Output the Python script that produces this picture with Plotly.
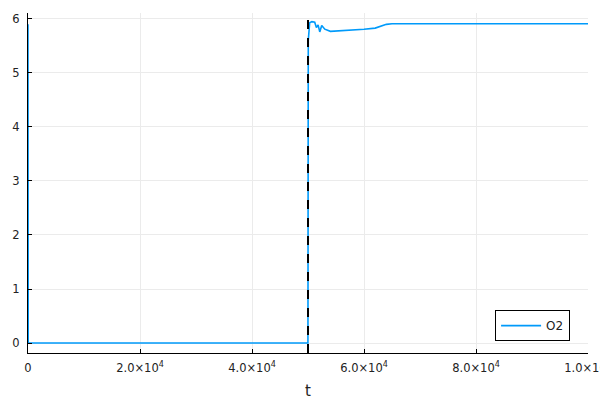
import plotly.graph_objects as go

t = [0, 40, 49990, 50000, 50050, 50300, 50700, 51200, 51500, 51800, 52100, 52450,
     53000, 54000, 56000, 58000, 60000, 62000, 63000, 64000, 65000, 100000]
o2 = [5.9, 0.0, 0.0, 0.0, 5.6, 5.93, 5.95, 5.94, 5.84, 5.89, 5.76, 5.88,
      5.81, 5.77, 5.78, 5.80, 5.81, 5.83, 5.86, 5.90, 5.91, 5.91]
vline_x = [50000]
xtick_vals = [0, 20000, 40000, 60000, 80000, 100000]
xtick_text = ["0", "2.0×10<sup>4</sup>", "4.0×10<sup>4</sup>", "6.0×10<sup>4</sup>",
              "8.0×10<sup>4</sup>", "1.0×10<sup>5</sup>"]
ytick_vals = [0, 1, 2, 3, 4, 5, 6]

fig = go.Figure()
fig.add_trace(go.Scatter(x=t, y=o2, mode="lines", name="O2",
                         line=dict(color="#009AFA", width=1.6)))
for xv in vline_x:
    fig.add_shape(type="line", x0=xv, x1=xv, y0=0, y1=1, xref="x", yref="paper",
                  line=dict(color="black", width=2, dash="dash"))

fig.update_layout(
    width=600, height=400,
    margin=dict(l=28, r=12, t=13, b=47),
    paper_bgcolor="white", plot_bgcolor="white",
    font=dict(family="DejaVu Sans", size=11, color="#222222"),
    showlegend=True,
    legend=dict(x=0.968, y=0.035, xanchor="right", yanchor="bottom",
                bordercolor="black", borderwidth=1, bgcolor="white",
                itemwidth=40, font=dict(size=12, color="#222222")),
    xaxis=dict(range=[0, 100000], tickvals=xtick_vals, ticktext=xtick_text,
               showgrid=True, gridcolor="#ebebeb", gridwidth=1,
               showline=True, linecolor="black", linewidth=1,
               ticks="inside", ticklen=4, tickcolor="black",
               zeroline=False, automargin=False, ticklabeloverflow="allow",
               ticklabelstandoff=4, tickfont=dict(size=11.5),
               title=dict(text="t", font=dict(size=15, color="#222222"), standoff=11)),
    yaxis=dict(range=[-0.185, 6.11], tickvals=ytick_vals,
               showgrid=True, gridcolor="#ebebeb", gridwidth=1,
               showline=True, linecolor="black", linewidth=1,
               ticks="inside", ticklen=4, tickcolor="black",
               zeroline=False, automargin=False, ticklabelstandoff=5,
               tickfont=dict(size=11.5)),
)
fig.write_html("out.html", config={"displayModeBar": False},
               post_script="document.body.style.margin='0';document.body.style.overflow='hidden';")
